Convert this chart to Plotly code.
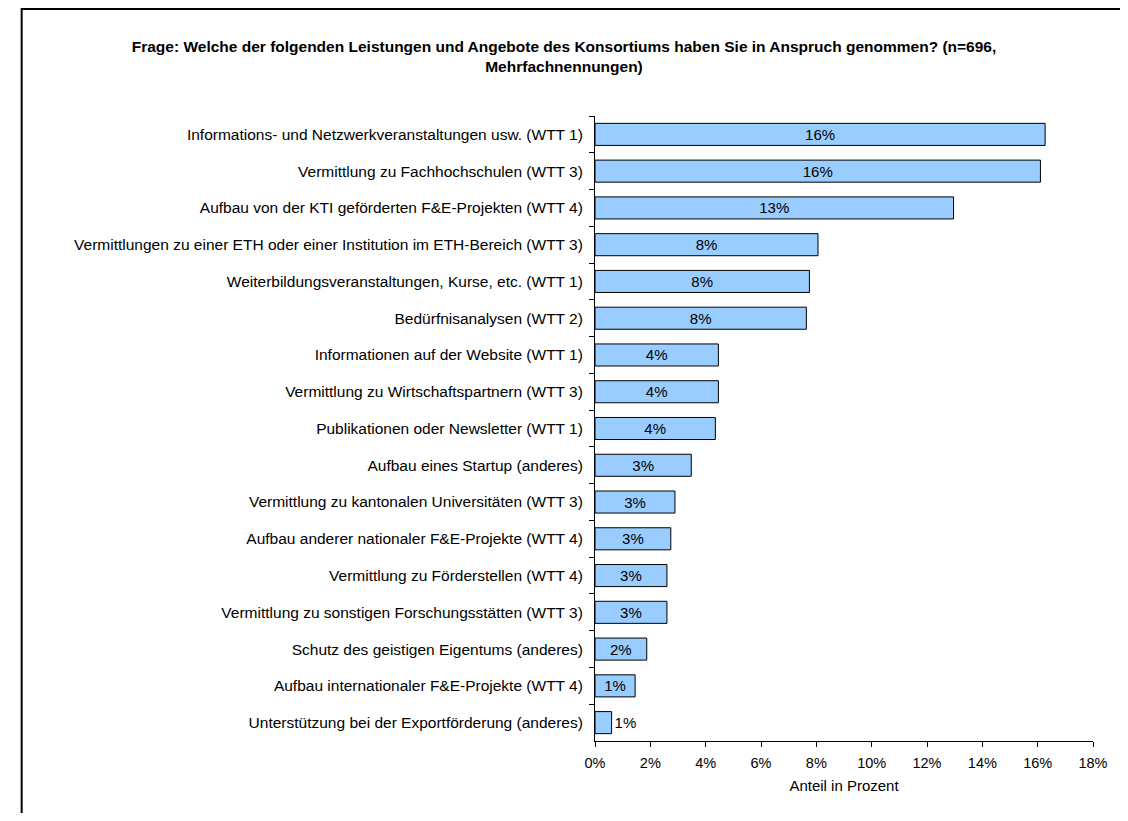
import plotly.graph_objects as go

# Leistungen / Angebote, von oben nach unten
categories = [
    "Informations- und Netzwerkveranstaltungen usw. (WTT 1)",
    "Vermittlung zu Fachhochschulen (WTT 3)",
    "Aufbau von der KTI geförderten F&E-Projekten (WTT 4)",
    "Vermittlungen zu einer ETH oder einer Institution im ETH-Bereich (WTT 3)",
    "Weiterbildungsveranstaltungen, Kurse, etc. (WTT 1)",
    "Bedürfnisanalysen (WTT 2)",
    "Informationen auf der Website (WTT 1)",
    "Vermittlung zu Wirtschaftspartnern (WTT 3)",
    "Publikationen oder Newsletter (WTT 1)",
    "Aufbau eines Startup (anderes)",
    "Vermittlung zu kantonalen Universitäten (WTT 3)",
    "Aufbau anderer nationaler F&E-Projekte (WTT 4)",
    "Vermittlung zu Förderstellen (WTT 4)",
    "Vermittlung zu sonstigen Forschungsstätten (WTT 3)",
    "Schutz des geistigen Eigentums (anderes)",
    "Aufbau internationaler F&E-Projekte (WTT 4)",
    "Unterstützung bei der Exportförderung (anderes)",
]
# Anteil in Prozent
shares = [16.27, 16.1, 12.96, 8.06, 7.75, 7.64, 4.46, 4.46, 4.35,
          3.48, 2.89, 2.74, 2.6, 2.6, 1.87, 1.45, 0.6]

title_text = ("<b>Frage: Welche der folgenden Leistungen und Angebote des Konsortiums "
              "haben Sie in Anspruch genommen? (n=696,<br>Mehrfachnennungen)</b>")

FONT = "Arial, Liberation Sans, sans-serif"

# page body has an 8px margin, so the figure is a bit smaller than the window
W, H = 1112, 805
ML, MR, MT, MB = 587, 16, 108, 72

# small bars get their label outside
text_pos = ["inside" if v > 1 else "outside" for v in shares]

fig = go.Figure(
    go.Bar(
        x=shares,
        y=categories,
        orientation="h",
        marker=dict(color="#99CCFF", line=dict(color="#000000", width=1)),
        width=0.6,
        texttemplate="%{x:.0f}%",
        textposition=text_pos,
        insidetextanchor="middle",
        textfont=dict(family=FONT, size=15, color="#000000"),
        constraintext="none",
        cliponaxis=False,
    )
)

fig.update_layout(
    width=W,
    height=H,
    paper_bgcolor="white",
    plot_bgcolor="white",
    margin=dict(l=ML, r=MR, t=MT, b=MB),
    font=dict(family=FONT, size=15, color="#000000"),
    showlegend=False,
    title=dict(
        text=title_text,
        x=0.5,
        xref="container",
        xanchor="center",
        y=1 - 44 / H,
        yanchor="middle",
        font=dict(family=FONT, size=15.5, color="#000000"),
    ),
)

fig.update_xaxes(
    range=[0, 18],
    dtick=2,
    ticksuffix="%",
    showgrid=False,
    zeroline=False,
    showline=True,
    linecolor="#000000",
    linewidth=1,
    ticks="outside",
    ticklen=5,
    tickcolor="#000000",
    ticklabelstandoff=4,
    title=dict(text="Anteil in Prozent", standoff=10, font=dict(size=15)),
    tickfont=dict(size=14.5),
)

fig.update_yaxes(
    autorange="reversed",
    showgrid=False,
    showline=True,
    linecolor="#000000",
    linewidth=1,
    ticks="outside",
    ticklen=5,
    tickcolor="#000000",
    tickson="boundaries",
    ticklabelstandoff=8,
    tickfont=dict(size=15.5),
)

# Rahmen oben und links (rechts/unten ausserhalb des Bildes)
pw, ph = W - ML - MR, H - MT - MB
fig.add_shape(
    type="rect",
    xref="paper",
    yref="paper",
    x0=(1 - ML) / pw,
    x1=(W + 20 - ML) / pw,
    y0=-(MB + 20) / ph,
    y1=(H - MB - 1) / ph,
    line=dict(color="#000000", width=2),
    fillcolor="rgba(0,0,0,0)",
    layer="below",
)

fig.write_html("out.html")
